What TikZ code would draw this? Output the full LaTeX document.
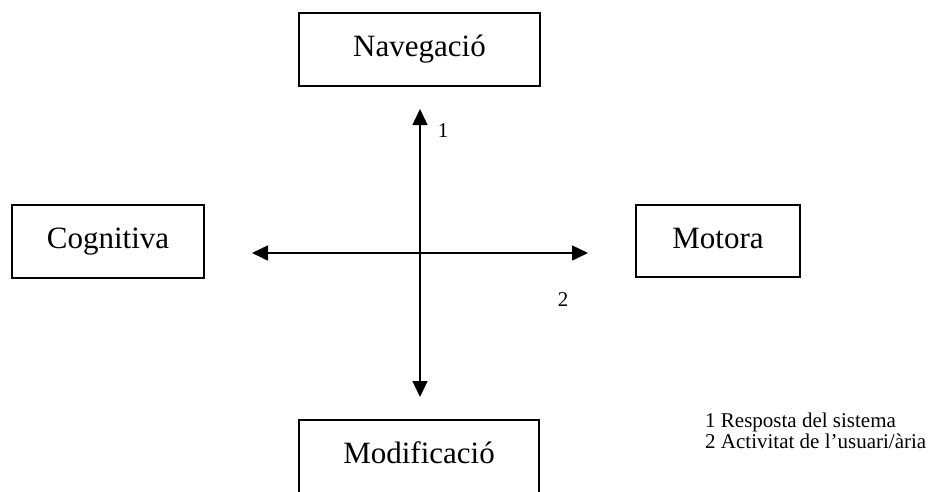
\documentclass[tikz,border=0pt]{standalone}
\usepackage{fontspec}
\setmainfont{Liberation Serif}
\usetikzlibrary{arrows.meta}
\begin{document}
\begin{tikzpicture}[x=1pt,y=-1pt,
  box/.style={draw=black,line width=1.6pt,rectangle,inner sep=0pt,
    font=\fontsize{31}{36}\selectfont,text height=21pt,text depth=7pt},
  axis/.style={line width=1.6pt,{Triangle[length=16pt,width=15pt]}-{Triangle[length=16pt,width=15pt]}},
  tag/.style={font=\fontsize{21}{25}\selectfont,inner sep=0pt}]
\useasboundingbox (0,0) rectangle (929,491);
% four category boxes
\node[box,minimum width=241pt,minimum height=73pt] (nav) at (419.5,49.5) {Navegació};
\node[box,minimum width=192pt,minimum height=73pt] (cog) at (108,241.5) {Cognitiva};
\node[box,minimum width=164pt,minimum height=72pt] (mot) at (718,241) {Motora};
\node[box,minimum width=240pt,minimum height=73pt] (mod) at (419,456.5) {Modificació};
% arrow end points
\coordinate (vtop) at (420,109);
\coordinate (vbot) at (420,397);
\coordinate (hleft) at (252,253);
\coordinate (hright) at (588,253);
\draw[axis] (vbot) -- (vtop);
\draw[axis] (hleft) -- (hright);
% axis labels
\node[tag] (l1) at (443,131) {1};
\node[tag] (l2) at (563,300) {2};
% legend
\node[tag,anchor=base west] (leg1) at (705,427) {1 Resposta del sistema};
\node[tag,anchor=base west] (leg2) at (705,448) {2 Activitat de l’usuari/ària};
\end{tikzpicture}
\end{document}
